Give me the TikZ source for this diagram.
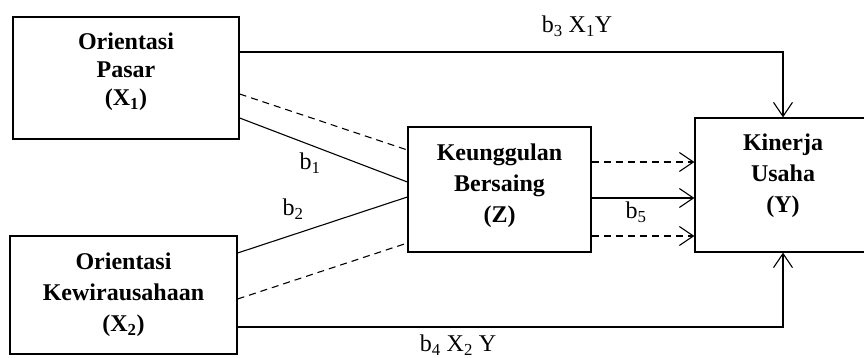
\documentclass[tikz,border=0pt]{standalone}
\usepackage{fontspec}
\setmainfont{Liberation Serif}
\usetikzlibrary{calc, positioning, arrows.meta}

\begin{document}
\begin{tikzpicture}[
  x=1pt, y=1pt,
  box/.style={draw, line width=1.3pt, inner sep=0pt, align=center, font=\fontsize{24}{31}\selectfont\bfseries},
  line/.style={line width=1.1pt},
  dline/.style={line, dash pattern=on 7pt off 5pt},
  arr/.style={line, -{Straight Barb[length=14pt, width=19pt, line width=1.1pt]}},
  darr/.style={arr, dash pattern=on 7pt off 5pt},
  lbl/.style={inner sep=0pt, font=\fontsize{24}{28}\selectfont}
]
\useasboundingbox (0,0) rectangle (864,-358);

\node[box, minimum width=226, minimum height=122, text depth=17pt, font=\fontsize{24}{28}\selectfont\bfseries] (pasar) at (126,-78) {Orientasi\\Pasar\\(X\textsubscript{1})};
\node[box, minimum width=227, minimum height=118] (wira) at (123.5,-295) {Orientasi\\Kewirausahaan\\(X\textsubscript{2})};
\node[box, minimum width=183, minimum height=125, text depth=13pt] (unggul) at (499.5,-189.5) {Keunggulan\\Bersaing\\(Z)};
\node[box, minimum width=176, minimum height=134, text depth=23pt] (kinerja) at (783,-185) {Kinerja\\Usaha\\(Y)};

\node[lbl] (b1) at (310,-163) {b\textsubscript{1}};
\node[lbl] (b2) at (293,-209) {b\textsubscript{2}};
\node[lbl] (b3) at (577,-26) {b\textsubscript{3} X\textsubscript{1}Y};
\node[lbl] (b4) at (458,-345) {b\textsubscript{4} X\textsubscript{2} Y};
\node[lbl] (b5) at (636,-212) {b\textsubscript{5}};

% direct paths to Y
\draw[arr] ([yshift=26pt]pasar.east) -| (kinerja.north);
\draw[arr] ([yshift=-32pt]wira.east) -| (kinerja.south);

% paths to Z
\draw[dline] ([yshift=-16pt]pasar.east) -- ([yshift=39.5pt]unggul.west);
\draw[line] ([yshift=-40pt]pasar.east) -- ([yshift=7.5pt]unggul.west);
\draw[line] ([yshift=42pt]wira.east) -- ([yshift=-7.5pt]unggul.west);
\draw[dline] ([yshift=-4pt]wira.east) -- ([yshift=-53.5pt]unggul.west);

% Z to Y
\draw[darr] ([yshift=27.5pt]unggul.east) -- ([yshift=23pt]kinerja.west);
\draw[arr] ([yshift=-8.5pt]unggul.east) -- ([yshift=-13pt]kinerja.west);
\draw[darr] ([yshift=-46.5pt]unggul.east) -- ([yshift=-51pt]kinerja.west);

\end{tikzpicture}
\end{document}
